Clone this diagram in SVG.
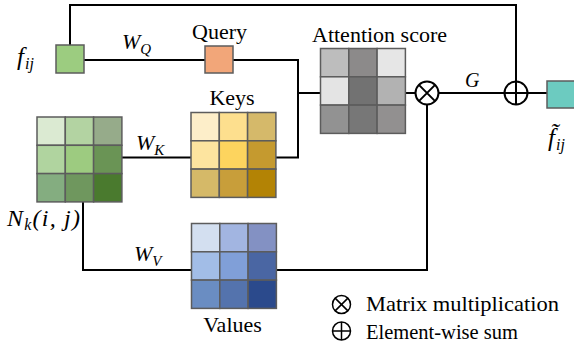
<svg xmlns="http://www.w3.org/2000/svg" width="574" height="354" viewBox="0 0 574 354">
<style>
.ln{fill:none;stroke:#000;stroke-width:2}
.cell{stroke:#5c5c5c;stroke-width:1.5}
.box{stroke:#5c5c5c;stroke-width:1.5}
.lbl{font-family:"Liberation Serif","Times New Roman",serif;font-size:22px;fill:#000}
.math{font-family:"Liberation Serif","Times New Roman",serif;font-style:italic;fill:#000}
.op{fill:#fff;stroke:#000;stroke-width:2}
</style>
<rect width="574" height="354" fill="#fff"/>
<g id="connectors">
<polyline class="ln" points="70,45 70,5 516,5 516,81.5"/>
<line class="ln" x1="84" y1="60" x2="205" y2="60"/>
<polyline class="ln" points="233,60 298,60 298,157.5 276,157.5"/>
<line class="ln" x1="298" y1="93" x2="320" y2="93"/>
<line class="ln" x1="406" y1="93" x2="415.5" y2="93"/>
<line class="ln" x1="438.5" y1="93" x2="504.5" y2="93"/>
<line class="ln" x1="527.5" y1="93" x2="547" y2="93"/>
<polyline class="ln" points="427,104.5 427,270 277,270"/>
<line class="ln" x1="122" y1="157.5" x2="191" y2="157.5"/>
<polyline class="ln" points="83,202 83,270 191,270"/>
</g>
<g id="f_ij">
<rect class="box" x="56" y="45" width="28" height="28" fill="#9ccc80"/>
<text class="math" x="17" y="65" font-size="25">f<tspan font-size="16" dy="4" dx="1">ij</tspan></text>
</g>
<g id="query">
<rect class="box" x="205" y="46" width="28" height="27" fill="#f2a679"/>
<text class="lbl" x="219.5" y="39" text-anchor="middle">Query</text>
</g>
<g id="wq"><text class="math" x="122" y="49" font-size="22">W<tspan font-size="15" dy="5">Q</tspan></text></g>
<g id="wk"><text class="math" x="136" y="150" font-size="22">W<tspan font-size="15" dy="5">K</tspan></text></g>
<g id="wv"><text class="math" x="134" y="261" font-size="22">W<tspan font-size="15" dy="5">V</tspan></text></g>
<g id="neighborhood" transform="translate(37,117)">
<rect class="cell" x="0" y="0" width="28.3" height="28.3" fill="#dbead2"/>
<rect class="cell" x="28.3" y="0" width="28.3" height="28.3" fill="#b3d3a2"/>
<rect class="cell" x="56.6" y="0" width="28.3" height="28.3" fill="#96ab8a"/>
<rect class="cell" x="0" y="28.3" width="28.3" height="28.3" fill="#b0d49f"/>
<rect class="cell" x="28.3" y="28.3" width="28.3" height="28.3" fill="#9dcb80"/>
<rect class="cell" x="56.6" y="28.3" width="28.3" height="28.3" fill="#6a9455"/>
<rect class="cell" x="0" y="56.6" width="28.3" height="28.3" fill="#84ad80"/>
<rect class="cell" x="28.3" y="56.6" width="28.3" height="28.3" fill="#6f975e"/>
<rect class="cell" x="56.6" y="56.6" width="28.3" height="28.3" fill="#4a7a2e"/>
</g>
<g id="nk_label"><text class="math" x="7" y="226" font-size="24" textLength="73" lengthAdjust="spacing">N<tspan font-size="16" dy="4">k</tspan><tspan dy="-4">(i, j)</tspan></text></g>
<g id="keys">
<g transform="translate(191,112.5)">
<rect class="cell" x="0" y="0" width="28.3" height="28.3" fill="#fdeec9"/>
<rect class="cell" x="28.3" y="0" width="28.3" height="28.3" fill="#fddf8e"/>
<rect class="cell" x="56.6" y="0" width="28.3" height="28.3" fill="#d5b96a"/>
<rect class="cell" x="0" y="28.3" width="28.3" height="28.3" fill="#fde49f"/>
<rect class="cell" x="28.3" y="28.3" width="28.3" height="28.3" fill="#fdd45e"/>
<rect class="cell" x="56.6" y="28.3" width="28.3" height="28.3" fill="#c59a2f"/>
<rect class="cell" x="0" y="56.6" width="28.3" height="28.3" fill="#d5b968"/>
<rect class="cell" x="28.3" y="56.6" width="28.3" height="28.3" fill="#c89e3a"/>
<rect class="cell" x="56.6" y="56.6" width="28.3" height="28.3" fill="#b38305"/>
</g>
<text class="lbl" x="232" y="105" text-anchor="middle">Keys</text>
</g>
<g id="values">
<g transform="translate(191.5,223.5)">
<rect class="cell" x="0" y="0" width="28.3" height="28.3" fill="#d3dff0"/>
<rect class="cell" x="28.3" y="0" width="28.3" height="28.3" fill="#a2b5e1"/>
<rect class="cell" x="56.6" y="0" width="28.3" height="28.3" fill="#8391c3"/>
<rect class="cell" x="0" y="28.3" width="28.3" height="28.3" fill="#a2bde7"/>
<rect class="cell" x="28.3" y="28.3" width="28.3" height="28.3" fill="#809fd8"/>
<rect class="cell" x="56.6" y="28.3" width="28.3" height="28.3" fill="#4a66a3"/>
<rect class="cell" x="0" y="56.6" width="28.3" height="28.3" fill="#6a8dc2"/>
<rect class="cell" x="28.3" y="56.6" width="28.3" height="28.3" fill="#5473ad"/>
<rect class="cell" x="56.6" y="56.6" width="28.3" height="28.3" fill="#2b4a8c"/>
</g>
<text class="lbl" x="232.5" y="332" text-anchor="middle">Values</text>
</g>
<g id="attention">
<g transform="translate(320.5,48.5)">
<rect class="cell" x="0" y="0" width="28.3" height="28.3" fill="#bdbdbd"/>
<rect class="cell" x="28.3" y="0" width="28.3" height="28.3" fill="#8c8a8a"/>
<rect class="cell" x="56.6" y="0" width="28.3" height="28.3" fill="#e6e6e6"/>
<rect class="cell" x="0" y="28.3" width="28.3" height="28.3" fill="#e4e4e4"/>
<rect class="cell" x="28.3" y="28.3" width="28.3" height="28.3" fill="#727272"/>
<rect class="cell" x="56.6" y="28.3" width="28.3" height="28.3" fill="#b2b2b2"/>
<rect class="cell" x="0" y="56.6" width="28.3" height="28.3" fill="#929292"/>
<rect class="cell" x="28.3" y="56.6" width="28.3" height="28.3" fill="#777777"/>
<rect class="cell" x="56.6" y="56.6" width="28.3" height="28.3" fill="#929090"/>
</g>
<text class="lbl" x="312" y="42">Attention score</text>
</g>
<g id="matmul">
<circle class="op" cx="427" cy="93" r="11.5"/>
<path class="ln" d="M418.9,84.9 L435.1,101.1 M435.1,84.9 L418.9,101.1"/>
</g>
<g id="g_label"><text class="math" x="465" y="87" font-size="20">G</text></g>
<g id="sum">
<circle class="op" cx="516" cy="93" r="11.5"/>
<path class="ln" d="M504.5,93 L527.5,93 M516,81.5 L516,104.5"/>
</g>
<g id="f_out">
<rect class="box" x="547" y="81" width="30" height="27" fill="#6ccbc0"/>
<text class="math" x="548" y="146" font-size="25">f̃<tspan font-size="16" dy="4" dx="1">ij</tspan></text>
</g>
<g id="legend">
<circle cx="341.5" cy="304.5" r="9" fill="#fff" stroke="#000" stroke-width="1.5"/>
<path d="M335.1,298.1 L347.9,310.9 M347.9,298.1 L335.1,310.9" stroke="#000" stroke-width="1.5"/>
<text class="lbl" x="366" y="311" textLength="193" lengthAdjust="spacingAndGlyphs">Matrix multiplication</text>
<circle cx="341.5" cy="331" r="9" fill="#fff" stroke="#000" stroke-width="1.5"/>
<path d="M332.5,331 L350.5,331 M341.5,322 L341.5,340" stroke="#000" stroke-width="1.5"/>
<text class="lbl" x="366" y="339" textLength="152" lengthAdjust="spacingAndGlyphs">Element-wise sum</text>
</g>
</svg>
